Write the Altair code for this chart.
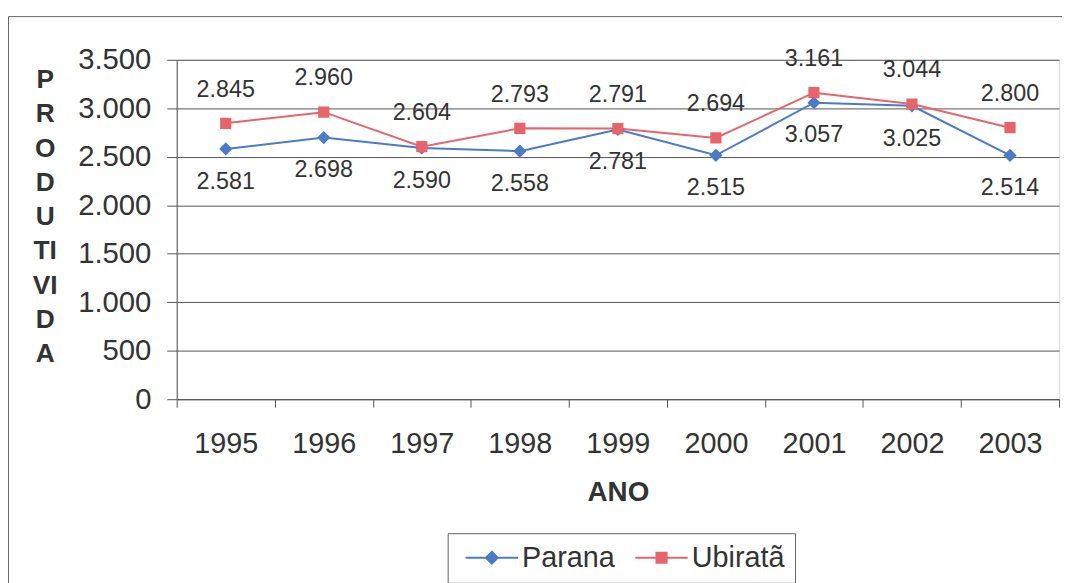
import altair as alt
import pandas as pd

years = ["1995", "1996", "1997", "1998", "1999", "2000", "2001", "2002", "2003"]
parana = [2581, 2698, 2590, 2558, 2781, 2515, 3057, 3025, 2514]
ubirata = [2845, 2960, 2604, 2793, 2791, 2694, 3161, 3044, 2800]
series = ["Parana", "Ubiratã"]
colors = ["#4a7bc9", "#e8646b"]
y_ticks = [0, 500, 1000, 1500, 2000, 2500, 3000, 3500]
y_title = ["P", "R", "O", "D", "U", "TI", "VI", "D", "A"]
x_title = "ANO"

df = pd.DataFrame({
    "ano": years * 2,
    "serie": [series[0]] * len(years) + [series[1]] * len(years),
    "valor": parana + ubirata,
})

FONT = "Liberation Sans"
TXT = "#333333"

diamond = "M-4.4,0H4.4M0,-1L1,0L0,1L-1,0Z"
square = "M-4.4,0H4.4M-0.85,-0.85H0.85V0.85H-0.85Z"

legend = alt.Legend(
    title=None, orient="none", direction="horizontal",
    legendX=273, legendY=477,
    labelFont=FONT, labelFontSize=29, labelColor=TXT,
    symbolSize=144, symbolOffset=20, labelOffset=16, columnPadding=12,
    padding=10, strokeColor="#666666", symbolStrokeWidth=2, symbolOpacity=1,
)

color = alt.Color("serie:N", scale=alt.Scale(domain=series, range=colors), legend=legend)
shape = alt.Shape("serie:N", scale=alt.Scale(domain=series, range=[diamond, square]), legend=legend)

x = alt.X("ano:O", sort=years, scale=alt.Scale(paddingInner=0, paddingOuter=0),
          axis=alt.Axis(title=x_title, labelAngle=0, labelFont=FONT, labelFontSize=29,
                        labelColor=TXT, labelPadding=23, tickBand="extent", tickSize=8,
                        tickColor="#555", domainColor="#555", grid=False,
                        titleFont=FONT, titleFontSize=28, titleFontWeight="bold",
                        titleColor=TXT, titlePadding=20))
y = alt.Y("valor:Q", scale=alt.Scale(domain=[0, 3500], nice=False),
          axis=alt.Axis(values=y_ticks, labelExpr="replace(format(datum.value, ','), ',', '.')",
                        labelFont=FONT, labelFontSize=29.5, labelColor=TXT, labelPadding=16,
                        tickSize=10, tickColor="#555", domainColor="#555",
                        gridColor="#555", gridWidth=1,
                        title=y_title, titleAngle=0, titleFont=FONT, titleFontSize=26.5,
                        titleFontWeight="bold", titleColor=TXT, titleLineHeight=34.5,
                        titleAlign="center", titleBaseline="top", titleX=-133, titleY=7))

base = alt.Chart(df).encode(x=x, y=y)

lines = base.mark_line(strokeWidth=2).encode(color=color)
points = base.mark_point(filled=True, size=175, strokeWidth=0, opacity=1).encode(color=color, shape=shape)

lbl = "replace(format(datum.valor, ','), ',', '.')"
text_below = base.transform_filter(alt.datum.serie == series[0]).transform_calculate(lbl=lbl).mark_text(
    font=FONT, fontSize=23.5, color=TXT, dy=33, baseline="middle").encode(text="lbl:N")
text_above = base.transform_filter(alt.datum.serie == series[1]).transform_calculate(lbl=lbl).mark_text(
    font=FONT, fontSize=23.5, color=TXT, dy=-34, baseline="middle").encode(text="lbl:N")

border = alt.Chart(alt.Data(values=[{}])).mark_rect(fill=None, stroke="#666666", strokeWidth=1).encode(
    x=alt.value(-169.5), y=alt.value(-43.5), x2=alt.value(950), y2=alt.value(650))

chart = alt.layer(border, lines, points, text_below, text_above).properties(
    width=889, height=342,
    autosize=alt.AutoSizeParams(type="none"),
    padding={"left": 170, "top": 50, "right": 3, "bottom": 183},
).configure_view(stroke="#999999", strokeWidth=1).configure(background="white")

chart.save("out.html", embed_options={"renderer": "svg", "actions": False})
